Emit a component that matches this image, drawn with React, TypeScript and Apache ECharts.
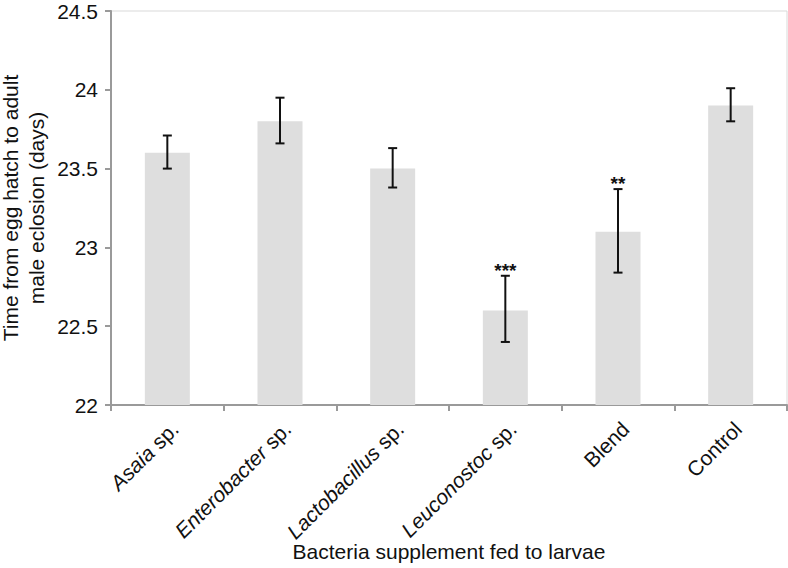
import React, { useEffect, useRef } from "react";
import * as echarts from "echarts";

const categories = ["Asaia sp.", "Enterobacter sp.", "Lactobacillus sp.", "Leuconostoc sp.", "Blend", "Control"];
const means = [23.6, 23.8, 23.5, 22.6, 23.1, 23.9];
const lower = [23.5, 23.66, 23.38, 22.4, 22.84, 23.8];
const upper = [23.71, 23.95, 23.63, 22.82, 23.37, 24.01];
const significance = ["", "", "", "***", "**", ""];
const yTicks = { min: 22, max: 24.5, interval: 0.5 };

const FONT = "'Liberation Sans', Arial, Helvetica, sans-serif";

export default function App() {
  const ref = useRef<HTMLDivElement>(null);
  useEffect(() => {
    if (!ref.current) return;
    const chart = echarts.init(ref.current, undefined, { renderer: "svg" });
    const errData = categories.map((_, i) => [i, lower[i], upper[i]]);
    chart.setOption({
      animation: false,
      backgroundColor: "#ffffff",
      textStyle: { fontFamily: FONT },
      grid: {
        left: 111,
        right: 1,
        top: 11,
        bottom: 163,
        containLabel: false,
        outerBoundsMode: "none",
        show: true,
        borderColor: "#d9d9d9",
        borderWidth: 1,
        backgroundColor: "transparent",
      },
      xAxis: {
        type: "category",
        data: categories,
        boundaryGap: true,
        nameMoveOverlap: false,
        axisLine: { lineStyle: { color: "#9a9a9a", width: 2 } },
        axisTick: { show: true, alignWithLabel: false, length: 6, lineStyle: { color: "#9a9a9a", width: 2 } },
        axisLabel: {
          rotate: 45,
          margin: 13,
          interval: 0,
          color: "#111",
          fontSize: 21,
          verticalAlign: "top",
          fontFamily: FONT,
          formatter: (v: string) => {
            if (v.endsWith(" sp.")) {
              return "{i|" + v.slice(0, -4) + "}{n| sp.}";
            }
            return "{n|" + v + "}";
          },
          rich: {
            i: { fontStyle: "italic", fontSize: 21, color: "#111", fontFamily: FONT },
            n: { fontSize: 21, color: "#111", fontFamily: FONT },
          },
        },
        name: "Bacteria supplement fed to larvae",
        nameLocation: "middle",
        nameGap: 136,
        nameTextStyle: { fontSize: 21, color: "#111", fontFamily: FONT },
      },
      yAxis: {
        type: "value",
        min: yTicks.min,
        max: yTicks.max,
        interval: yTicks.interval,
        nameMoveOverlap: false,
        splitLine: { show: false },
        axisLine: { show: true, lineStyle: { color: "#9a9a9a", width: 2 } },
        axisTick: { show: true, length: 6, lineStyle: { color: "#9a9a9a", width: 2 } },
        axisLabel: { color: "#111", fontSize: 21, margin: 13, fontFamily: FONT },
        name: "Time from egg hatch to adult\nmale eclosion (days)",
        nameLocation: "middle",
        nameGap: 62,
        nameTextStyle: { fontSize: 21, color: "#111", fontFamily: FONT, lineHeight: 26 },
      },
      series: [
        {
          type: "bar",
          data: means,
          barWidth: 45,
          itemStyle: { color: "#dedede" },
          z: 1,
        },
        {
          type: "custom",
          data: errData,
          encode: { x: 0, y: [1, 2] },
          z: 5,
          renderItem: (params: any, api: any) => {
            const x = api.value(0);
            const lo = api.coord([x, api.value(1)]);
            const hi = api.coord([x, api.value(2)]);
            const sig = significance[params.dataIndex];
            const half = 4.5;
            const style = { stroke: "#111", lineWidth: 2 };
            const children: any[] = [
              { type: "line", shape: { x1: lo[0], y1: lo[1], x2: hi[0], y2: hi[1] }, style },
              { type: "line", shape: { x1: lo[0] - half, y1: lo[1], x2: lo[0] + half, y2: lo[1] }, style },
              { type: "line", shape: { x1: hi[0] - half, y1: hi[1], x2: hi[0] + half, y2: hi[1] }, style },
            ];
            if (sig) {
              children.push({
                type: "text",
                x: hi[0],
                y: hi[1] + 4,
                style: {
                  text: sig,
                  fill: "#111",
                  font: "bold 19px " + FONT,
                  textAlign: "center",
                  textVerticalAlign: "bottom",
                },
              });
            }
            return { type: "group", children };
          },
        },
      ],
    });
    return () => chart.dispose();
  }, []);
  return <div ref={ref} style={{ position: "absolute", left: 0, top: 0, width: 788, height: 568 }} />;
}
